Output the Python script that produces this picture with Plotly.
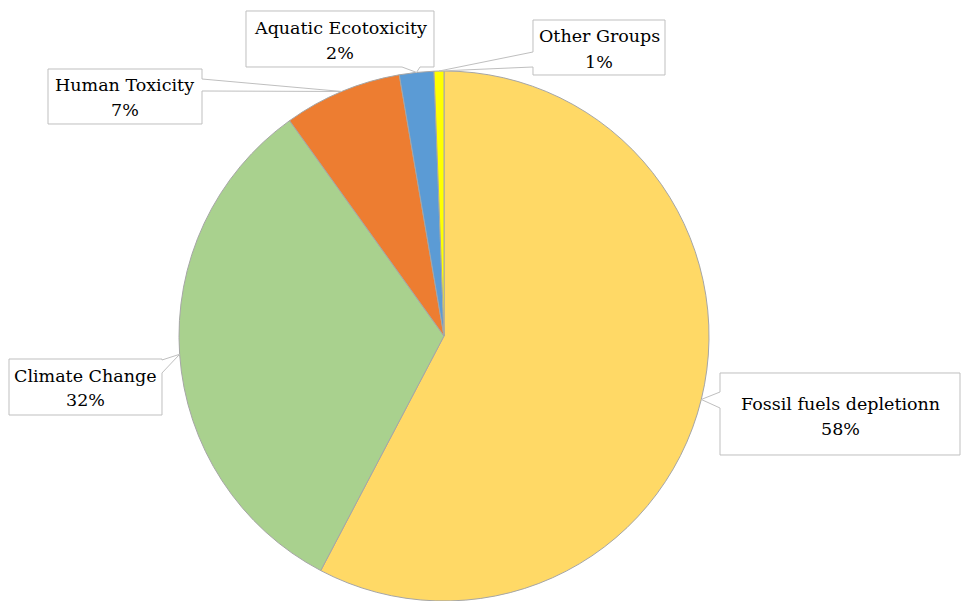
import math
import plotly.graph_objects as go

# ---- data ----
categories = ["Fossil fuels depletionn", "Climate Change", "Human Toxicity",
              "Aquatic Ecotoxicity", "Other Groups"]
values = [57.7, 32.4, 7.2, 2.1, 0.6]
colors = ["#FFD966", "#A9D18E", "#ED7D31", "#5B9BD5", "#FFFF00"]

W, H = 961, 601
CX, CY, R = 444, 336, 265  # pie centre / radius in pixels

fig = go.Figure(go.Pie(
    labels=categories, values=values, sort=False, direction="clockwise",
    rotation=0, textinfo="none", hoverinfo="label+percent",
    marker=dict(colors=colors, line=dict(color="#A6A6A6", width=1)),
    domain=dict(x=[(CX - R) / W, (CX + R) / W], y=[0, 2 * R / H]),
    showlegend=False,
))

# callout boxes: (x0, y0, x1, y1), side of pointer, base (a, b), name line y, pct line y
boxes = {
    "Fossil fuels depletionn": ((720, 373, 960, 455), "left", (392, 408), 404, 429),
    "Climate Change": ((9, 359, 162, 415), "right", (360, 373), 376, 400),
    "Human Toxicity": ((48, 69, 202, 124), "right", (79, 91), 85, 110),
    "Aquatic Ecotoxicity": ((246, 11, 434, 67), "bottom", (402, 420), 28, 53),
    "Other Groups": ((533, 20, 665, 75), "left", (52, 67), 36, 62),
}

FONT = "DejaVu Serif"

def P(x, y):
    return f"{x / W:.5f},{1 - y / H:.5f}"

total = sum(values)
cum = 0.0
shapes, annotations = [], []
for name, v in zip(categories, values):
    mid = (cum + v / 2) / total
    cum += v
    th = 2 * math.pi * mid
    tx, ty = CX + R * math.sin(th), CY - R * math.cos(th)
    (x0, y0, x1, y1), side, (a, b), ly1, ly2 = boxes[name]
    if side == "right":
        pts = [(x0, y0), (x1, y0), (x1, a), (tx, ty), (x1, b), (x1, y1), (x0, y1)]
    elif side == "left":
        pts = [(x0, y0), (x1, y0), (x1, y1), (x0, y1), (x0, b), (tx, ty), (x0, a)]
    else:
        pts = [(x0, y0), (x1, y0), (x1, y1), (b, y1), (tx, ty), (a, y1), (x0, y1)]
    path = "M" + " L".join(P(x, y) for x, y in pts) + " Z"
    shapes.append(dict(type="path", path=path, xref="paper", yref="paper",
                       line=dict(color="#BFBFBF", width=1), fillcolor="white",
                       layer="above"))
    xc = (x0 + x1) / 2
    pct = f"{round(v / total * 100)}%"
    for txt, yy in ((name, ly1), (pct, ly2)):
        annotations.append(dict(text=txt, x=xc / W, y=1 - yy / H, xref="paper",
                                yref="paper", xanchor="center", yanchor="middle",
                                showarrow=False,
                                font=dict(family=FONT, size=17.5, color="black")))

fig.update_layout(width=W, height=H, margin=dict(l=0, r=0, t=0, b=0),
                  paper_bgcolor="white", plot_bgcolor="white",
                  font=dict(family=FONT),
                  shapes=shapes, annotations=annotations)

fig.write_html("out.html")
